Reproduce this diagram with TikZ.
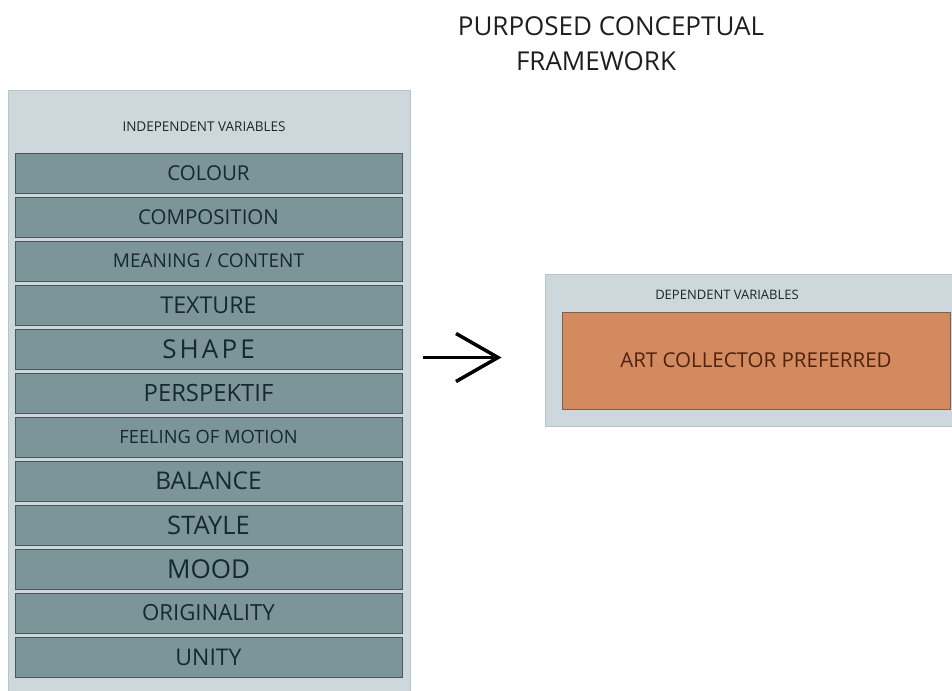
\documentclass[tikz,border=0pt]{standalone}
\usepackage{fontspec}
\setmainfont{Open Sans}
\usetikzlibrary{arrows.meta}
\definecolor{panelc}{HTML}{CDD7DC}
\definecolor{panelb}{HTML}{B9C4C9}
\definecolor{boxc}{HTML}{7B9599}
\definecolor{boxb}{HTML}{45585C}
\definecolor{boxt}{HTML}{16292D}
\definecolor{orangec}{HTML}{D48A5F}
\definecolor{orangeb}{HTML}{7A6252}
\definecolor{oranget}{HTML}{4E220C}
\definecolor{titlec}{HTML}{1E1E1E}
\tikzset{
  panel/.style={draw=panelb, fill=panelc, line width=0.6pt, anchor=north west, inner sep=0pt},
  varbox/.style={draw=boxb, fill=boxc, line width=1pt, minimum width=387pt, minimum height=40pt, inner sep=0pt, text=boxt},
  depbox/.style={draw=orangeb, fill=orangec, line width=1pt, minimum width=388pt, minimum height=97pt, inner sep=0pt, text=oranget},
  smalllab/.style={text=boxt, inner sep=0pt, font=\fontsize{13.5}{15}\selectfont},
  titlelab/.style={text=titlec, inner sep=0pt, font=\fontsize{26}{29}\selectfont},
  arr/.style={line width=3.5pt, -{Straight Barb[length=42pt, width=48pt]}}
}
\newcommand{\fsz}[1]{\fontsize{#1}{#1}\selectfont}
\begin{document}
\begin{tikzpicture}[x=1pt, y=-1pt]
\useasboundingbox (0,0) rectangle (952,690);
% title
\node[titlelab] (t1) at (611,26) {PURPOSED CONCEPTUAL};
\node[titlelab] (t2) at (596,61) {FRAMEWORK};
% left panel
\node[panel, minimum width=402pt, minimum height=601pt] (ind) at (8,90) {};
\node[smalllab] (indlab) at (204,127) {INDEPENDENT VARIABLES};
\node[varbox, font=\fsz{20.5}] (b1) at (208.5,173) {COLOUR};
\node[varbox, font=\fsz{20.5}] (b2) at (208.5,217) {COMPOSITION};
\node[varbox, font=\fsz{19}] (b3) at (208.5,261) {MEANING / CONTENT};
\node[varbox, font=\fsz{23.2}] (b4) at (208.5,305) {TEXTURE};
\node[varbox, font={\fsz{26}\addfontfeature{LetterSpace=12}}] (b5) at (208.5,349) {SHAPE};
\node[varbox, font=\fsz{23.8}] (b6) at (208.5,393) {PERSPEKTIF};
\node[varbox, font=\fsz{18.3}] (b7) at (208.5,437) {FEELING OF MOTION};
\node[varbox, font=\fsz{24.4}] (b8) at (208.5,481) {BALANCE};
\node[varbox, font=\fsz{25.5}] (b9) at (208.5,525) {STAYLE};
\node[varbox, font=\fsz{26}] (b10) at (208.5,569) {MOOD};
\node[varbox, font=\fsz{22.2}] (b11) at (208.5,613) {ORIGINALITY};
\node[varbox, font=\fsz{23}] (b12) at (208.5,657) {UNITY};
% right panel
\node[panel, minimum width=410pt, minimum height=152pt] (dep) at (545,274) {};
\node[smalllab, font=\fontsize{13}{15}\selectfont] (deplab) at (727,295) {DEPENDENT VARIABLES};
\node[depbox, font=\fsz{20.5}] (acp) at (756,360.5) {ART COLLECTOR PREFERRED};
% arrow
\draw[arr, shorten <=12pt, shorten >=60pt] ([yshift=3pt]ind.east |- acp.west) -- ([yshift=3pt]acp.west);
\end{tikzpicture}
\end{document}
